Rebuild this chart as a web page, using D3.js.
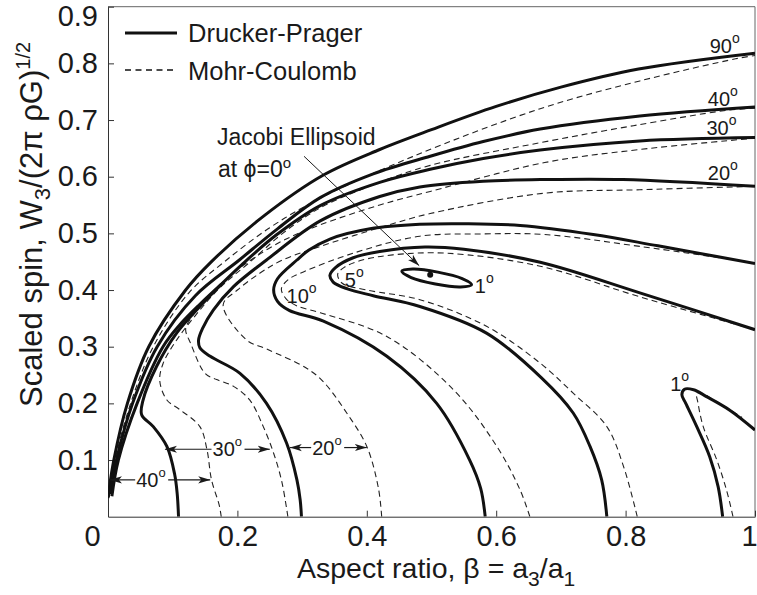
<!DOCTYPE html>
<html lang="en">
<head>
<meta charset="UTF-8">
<script src="https://cdn.jsdelivr.net/npm/d3@7"></script>
<title>Scaled spin vs aspect ratio</title>
<style>
  body { margin: 0; background: #fff; }
  text { font-family: "Liberation Sans", Arial, sans-serif; fill: #1a1a1a; }
</style>
</head>
<body>
<script>
  const W = 757, H = 595
  const margin = ({top: 6.7, right: 2, bottom: 78.3, left: 108})

  // axis ticks
  const xTicks = [0, 0.2, 0.4, 0.6, 0.8, 1]
  const yTicks = [0.1, 0.2, 0.3, 0.4, 0.5, 0.6, 0.7, 0.8, 0.9]

  // Drucker-Prager curves [beta, spin]
  const dp90 = [[0.0,0.033],[0.009,0.1],[0.03,0.2],[0.063,0.3],[0.12,0.4],[0.158,0.448],[0.24,0.53],[0.333,0.603],[0.42,0.648],[0.5,0.683],[0.6,0.724],[0.7,0.758],[0.82,0.79],[1,0.818]]
  const dp40 = [[0.003,0.04],[0.013,0.1],[0.038,0.2],[0.076,0.3],[0.135,0.39],[0.203,0.453],[0.262,0.508],[0.328,0.563],[0.41,0.605],[0.498,0.636],[0.58,0.662],[0.668,0.684],[0.822,0.707],[1,0.723]]
  const dp30 = [[0.109,0],[0.107,0.04],[0.103,0.075],[0.091,0.124],[0.07,0.159],[0.052,0.18],[0.054,0.205],[0.075,0.265],[0.106,0.324],[0.142,0.371],[0.175,0.41],[0.207,0.445],[0.26,0.497],[0.328,0.549],[0.42,0.59],[0.498,0.613],[0.58,0.632],[0.668,0.647],[0.822,0.663],[1,0.669]]
  const dp30Upper = [[0.006,0.036],[0.016,0.1],[0.045,0.2],[0.085,0.3],[0.112,0.34],[0.142,0.375],[0.175,0.41]]
  const dp20 = [[0.299,0],[0.297,0.03],[0.292,0.065],[0.276,0.13],[0.245,0.2],[0.204,0.253],[0.158,0.283],[0.142,0.298],[0.14,0.312],[0.146,0.332],[0.163,0.365],[0.194,0.406],[0.245,0.453],[0.328,0.522],[0.42,0.565],[0.482,0.582],[0.58,0.592],[0.675,0.595],[0.796,0.595],[1,0.583]]
  const dp10 = [[0.583,0],[0.576,0.05],[0.559,0.1],[0.508,0.2],[0.431,0.283],[0.333,0.345],[0.28,0.364],[0.262,0.38],[0.256,0.4],[0.262,0.42],[0.292,0.453],[0.31,0.47],[0.343,0.49],[0.405,0.508],[0.482,0.516],[0.55,0.517],[0.637,0.514],[0.75,0.498],[0.85,0.478],[1,0.447]]
  const dp5 = [[0.771,0],[0.763,0.065],[0.745,0.124],[0.719,0.183],[0.67,0.245],[0.585,0.324],[0.482,0.371],[0.41,0.39],[0.37,0.402],[0.348,0.414],[0.343,0.426],[0.352,0.44],[0.379,0.457],[0.42,0.468],[0.49,0.476],[0.55,0.472],[0.668,0.449],[0.822,0.395],[1,0.33]]
  const dp1Jacobi = [[0.562,0.4094],[0.545,0.4055],[0.506,0.4108],[0.4686,0.4221],[0.4541,0.433],[0.4711,0.4369],[0.5097,0.4316],[0.5474,0.4203]]
  const dp1 = [[0.95,0],[0.943,0.053],[0.93,0.106],[0.91,0.159],[0.893,0.2],[0.887,0.215],[0.891,0.225],[0.905,0.224],[0.925,0.212],[0.961,0.188],[1,0.153]]

  // Mohr-Coulomb curves
  const mc90 = [[0.002,0.035],[0.011,0.1],[0.035,0.2],[0.07,0.3],[0.125,0.395],[0.18,0.45],[0.25,0.51],[0.328,0.562],[0.472,0.636],[0.668,0.72],[0.822,0.769],[0.97,0.808],[1,0.814]]
  const mc40 = [[0.175,0],[0.172,0.02],[0.16,0.065],[0.153,0.118],[0.142,0.159],[0.111,0.189],[0.091,0.206],[0.08,0.24],[0.085,0.27],[0.105,0.31],[0.135,0.355],[0.172,0.403],[0.22,0.45],[0.27,0.5],[0.328,0.545],[0.42,0.59],[0.498,0.62],[0.668,0.66],[0.812,0.69],[0.956,0.717],[1,0.721]]
  const mc30 = [[0.278,0],[0.276,0.015],[0.268,0.065],[0.256,0.112],[0.24,0.159],[0.219,0.206],[0.194,0.23],[0.168,0.242],[0.15,0.253],[0.128,0.305],[0.12,0.33],[0.125,0.345],[0.145,0.375],[0.178,0.415],[0.217,0.45],[0.27,0.487],[0.328,0.515],[0.42,0.55],[0.498,0.574],[0.675,0.625],[0.822,0.648],[1,0.668]]
  const mc20 = [[0.423,0],[0.418,0.05],[0.4,0.124],[0.369,0.183],[0.333,0.238],[0.307,0.262],[0.245,0.296],[0.214,0.312],[0.178,0.374],[0.2,0.4],[0.235,0.43],[0.268,0.452],[0.328,0.477],[0.42,0.51],[0.498,0.535],[0.675,0.571],[0.822,0.577],[1,0.583]]
  const mc10 = [[0.652,0],[0.637,0.047],[0.601,0.124],[0.534,0.224],[0.431,0.318],[0.328,0.36],[0.292,0.372],[0.275,0.385],[0.268,0.402],[0.278,0.418],[0.302,0.432],[0.379,0.465],[0.482,0.495],[0.58,0.499],[0.675,0.498],[0.822,0.477],[1,0.448]]
  const mc5 = [[0.818,0],[0.797,0.088],[0.771,0.159],[0.719,0.218],[0.668,0.271],[0.585,0.336],[0.482,0.383],[0.4,0.4],[0.362,0.412],[0.355,0.428],[0.365,0.44],[0.39,0.452],[0.44,0.462],[0.523,0.465],[0.668,0.442],[0.822,0.388],[1,0.33]]
  const mc1 = [[0.966,0],[0.956,0.047],[0.941,0.1],[0.92,0.159],[0.912,0.2],[0.91,0.218],[0.918,0.218],[0.936,0.206],[0.96,0.19],[0.98,0.175]]

  // curve labels: text, beta, spin (baseline)
  const angleLabels = [
    {t: '90', x: 0.930, y: 0.8175},
    {t: '40', x: 0.927, y: 0.724},
    {t: '30', x: 0.925, y: 0.674},
    {t: '20', x: 0.927, y: 0.595},
    {t: '1', x: 0.567, y: 0.395},
    {t: '5', x: 0.366, y: 0.406},
    {t: '10', x: 0.276, y: 0.377},
    {t: '1', x: 0.869, y: 0.221}
  ]
  // gap arrows between DP and MC lower branches
  const gapArrows = [
    {t: '40', y: 0.065, from: 0.003, to: 0.158, tx: 0.042},
    {t: '30', y: 0.119, from: 0.088, to: 0.25, tx: 0.16},
    {t: '20', y: 0.122, from: 0.281, to: 0.4, tx: 0.314}
  ]
  const jacobiPoint = [0.498, 0.427]
  const jacobiArrow = [[0.303, 0.636], [0.481, 0.443]]

  const x = d3.scaleLinear().domain([0, 1]).range([margin.left, W - margin.right])
  const y = d3.scaleLinear().domain([0, 0.9]).range([H - margin.bottom, margin.top])

  const svg = d3.select('body').append('svg')
      .attr('width', W)
      .attr('height', H)

  const defs = svg.append('defs')
  defs.append('clipPath').attr('id', 'plot')
    .append('rect')
      .attr('x', x(0)).attr('y', y(0.9))
      .attr('width', x(1) - x(0)).attr('height', y(0) - y(0.9))
  defs.append('marker')
      .attr('id', 'head')
      .attr('viewBox', '0 -5 12 10')
      .attr('refX', 12).attr('refY', 0)
      .attr('markerWidth', 12).attr('markerHeight', 10)
      .attr('markerUnits', 'userSpaceOnUse')
      .attr('orient', 'auto-start-reverse')
    .append('path')
      .attr('d', 'M12,0L0,-3.6L3,0L0,3.6Z')
      .attr('fill', '#1a1a1a')

  // frame (top / right)
  svg.append('path')
      .attr('d', `M${x(0)},${y(0.9)}H${x(1)}V${y(0)}`)
      .attr('fill', 'none')
      .attr('stroke', '#666')
      .attr('stroke-width', 1)

  const xAxis = g => g
      .attr('transform', `translate(0,${y(0)})`)
      .call(d3.axisBottom(x).tickValues(xTicks).tickSizeInner(-6).tickSizeOuter(0).tickPadding(9)
        .tickFormat(d => d === 0 ? '0' : d === 1 ? '1' : d3.format('.1f')(d)))
      .call(g => g.selectAll('text').attr('font-size', 29).attr('fill', '#1a1a1a')
        .attr('dx', d => d === 0 ? -16 : d === 1 ? -6 : 0))
      .call(g => g.selectAll('.tick line, .domain').attr('stroke', '#333'))
      .call(g => g.attr('font-family', null))

  const yAxis = g => g
      .attr('transform', `translate(${x(0)},0)`)
      .call(d3.axisLeft(y).tickValues(yTicks).tickSizeInner(-6).tickSizeOuter(0).tickPadding(10)
        .tickFormat(d3.format('.1f')))
      .call(g => g.selectAll('text').attr('font-size', 29).attr('fill', '#1a1a1a')
        .attr('y', d => d === 0.9 ? 10 : 0))
      .call(g => g.selectAll('.tick line, .domain').attr('stroke', '#333'))
      .call(g => g.attr('font-family', null))

  svg.append('g').call(xAxis)
  svg.append('g').call(yAxis)

  const line = d3.line()
      .x(d => x(d[0]))
      .y(d => y(d[1]))
      .curve(d3.curveCatmullRom.alpha(0.5))

  const plot = svg.append('g').attr('clip-path', 'url(#plot)')

  plot.selectAll('path.mc')
    .data([mc90, mc40, mc30, mc20, mc10, mc5, mc1])
    .join('path')
      .attr('class', 'mc')
      .attr('d', line)
      .attr('fill', 'none')
      .attr('stroke', '#222')
      .attr('stroke-width', 1.1)
      .attr('stroke-dasharray', '6,4')

  plot.selectAll('path.dp')
    .data([dp90, dp40, dp30Upper, dp30, dp20, dp10, dp5, dp1])
    .join('path')
      .attr('class', 'dp')
      .attr('d', line)
      .attr('fill', 'none')
      .attr('stroke', '#111')
      .attr('stroke-width', 3)
      .attr('stroke-linejoin', 'round')

  plot.append('path')
      .datum(dp1Jacobi)
      .attr('d', line.curve(d3.curveCatmullRomClosed.alpha(0.5)))
      .attr('fill', 'none')
      .attr('stroke', '#111')
      .attr('stroke-width', 3)

  // Jacobi annotation
  svg.append('circle')
      .attr('cx', x(jacobiPoint[0])).attr('cy', y(jacobiPoint[1]))
      .attr('r', 3).attr('fill', '#111')
  svg.append('line')
      .attr('x1', x(jacobiArrow[0][0])).attr('y1', y(jacobiArrow[0][1]))
      .attr('x2', x(jacobiArrow[1][0])).attr('y2', y(jacobiArrow[1][1]))
      .attr('stroke', '#1a1a1a').attr('stroke-width', 1)
      .attr('marker-end', 'url(#head)')

  const jt = svg.append('text').attr('font-size', 23)
  jt.append('tspan').attr('x', 217).attr('y', 145).text('Jacobi Ellipsoid')
  jt.append('tspan').attr('x', 218).attr('y', 177).text('at \u03d5=0')
  jt.append('tspan').attr('font-size', 15).attr('dy', -9).text('o')

  // gap arrows
  const ga = svg.append('g').selectAll('g').data(gapArrows).join('g')
  ga.append('line')
      .attr('x1', d => x(d.tx)).attr('x2', d => x(d.from))
      .attr('y1', d => y(d.y)).attr('y2', d => y(d.y))
      .attr('stroke', '#1a1a1a').attr('stroke-width', 1.2)
      .attr('marker-end', 'url(#head)')
  ga.append('line')
      .attr('x1', d => x(d.tx) + 33).attr('x2', d => x(d.to))
      .attr('y1', d => y(d.y)).attr('y2', d => y(d.y))
      .attr('stroke', '#1a1a1a').attr('stroke-width', 1.2)
      .attr('marker-end', 'url(#head)')
  const gt = ga.append('text')
      .attr('x', d => x(d.tx) + 1).attr('y', d => y(d.y) + 7)
      .attr('font-size', 20)
  gt.append('tspan').text(d => d.t)
  gt.append('tspan').attr('font-size', 13).attr('dy', -10).text('o')

  // angle labels
  const al = svg.append('g').selectAll('text').data(angleLabels).join('text')
      .attr('x', d => x(d.x)).attr('y', d => y(d.y))
      .attr('font-size', 20)
  al.append('tspan').text(d => d.t)
  al.append('tspan').attr('font-size', 14).attr('dy', -10).text('o')

  // legend
  const legend = svg.append('g')
  legend.append('line')
      .attr('x1', 125).attr('x2', 177).attr('y1', 33).attr('y2', 33)
      .attr('stroke', '#111').attr('stroke-width', 3)
  legend.append('line')
      .attr('x1', 125).attr('x2', 177).attr('y1', 70).attr('y2', 70)
      .attr('stroke', '#111').attr('stroke-width', 1.6).attr('stroke-dasharray', '6,4.5')
  legend.append('text').attr('x', 188).attr('y', 42).attr('font-size', 25.5).text('Drucker-Prager')
  legend.append('text').attr('x', 188).attr('y', 80).attr('font-size', 25.5).text('Mohr-Coulomb')

  // axis titles
  const xt = svg.append('text').attr('x', 297).attr('y', 578).attr('font-size', 28.5)
  xt.append('tspan').text('Aspect ratio, \u03b2 = a')
  xt.append('tspan').attr('font-size', 21).attr('dy', 8).text('3')
  xt.append('tspan').attr('dy', -8).text('/a')
  xt.append('tspan').attr('font-size', 21).attr('dy', 8).text('1')

  const yt = svg.append('text')
      .attr('transform', 'translate(42,407) rotate(-90)')
      .attr('font-size', 31)
  yt.append('tspan').text('Scaled spin,  W')
  yt.append('tspan').attr('font-size', 22).attr('dy', 8).text('3')
  yt.append('tspan').attr('dy', -8).text('/(2\u03c0 \u03c1G)')
  yt.append('tspan').attr('font-size', 20).attr('dy', -12).text('1/2')
</script>
</body>
</html>
